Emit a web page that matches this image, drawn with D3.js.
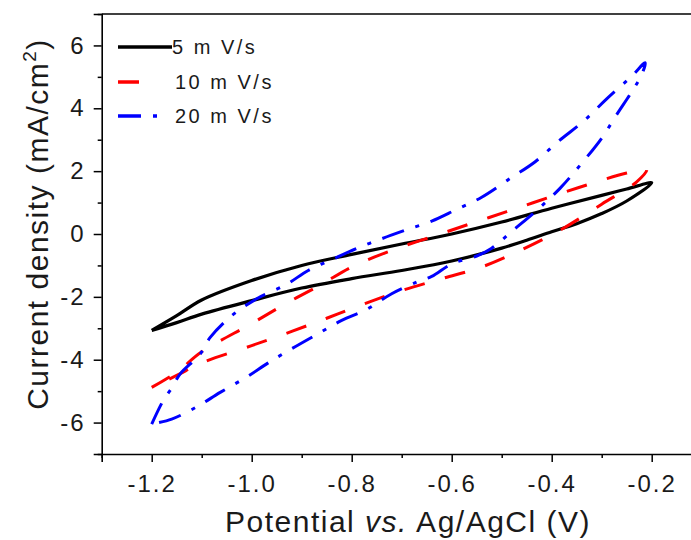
<!DOCTYPE html>
<html>
<head>
<meta charset="utf-8">
<script src="https://cdn.jsdelivr.net/npm/d3@7"></script>
<style>
  body { margin: 0; background: #fff; }
  text { font-family: "Liberation Sans", Arial, sans-serif; fill: #1a1a1a; }
</style>
</head>
<body>
<div id="chart"></div>
<script>
// cyclic voltammetry loops (V vs Ag/AgCl, mA/cm2)
var potential5 = [-1.2, -1.15, -1.1, -1.0, -0.9, -0.8, -0.7, -0.6, -0.5, -0.4, -0.3, -0.25, -0.2,
  -0.25, -0.3, -0.35, -0.4, -0.45, -0.5, -0.6, -0.7, -0.8, -0.9, -1.0, -1.1, -1.15, -1.2];
var current5 = [-3.07, -2.6, -2.1, -1.48, -1.0, -0.65, -0.32, 0.0, 0.38, 0.82, 1.23, 1.43, 1.63,
  1.05, 0.65, 0.33, 0.07, -0.2, -0.45, -0.86, -1.16, -1.42, -1.72, -2.12, -2.55, -2.82, -3.07];

var potential10 = [-1.2, -1.15, -1.1, -1.0, -0.93, -0.86, -0.8, -0.72, -0.64, -0.56, -0.49, -0.41, -0.33, -0.25, -0.21,
  -0.23, -0.3, -0.38, -0.46, -0.54, -0.62, -0.7, -0.78, -0.85, -0.92, -1.0, -1.1, -1.15, -1.2];
var current10 = [-4.88, -4.4, -3.75, -2.85, -2.2, -1.6, -1.05, -0.52, -0.09, 0.34, 0.71, 1.14, 1.56, 1.94, 2.05,
  1.66, 0.95, 0.15, -0.5, -1.05, -1.42, -1.8, -2.25, -2.68, -3.1, -3.55, -4.1, -4.5, -4.88];

var potential20 = [-1.2, -1.177, -1.16, -1.143, -1.103, -1.083, -1.04, -0.99, -0.93, -0.887, -0.835, -0.79, -0.74,
  -0.693, -0.64, -0.593, -0.54, -0.48, -0.433, -0.385, -0.337, -0.29, -0.24, -0.213,
  -0.22, -0.237, -0.27, -0.3, -0.34, -0.383, -0.43, -0.477, -0.52, -0.55, -0.6, -0.64, -0.67, -0.72,
  -0.77, -0.82, -0.867, -0.92, -0.967, -1.01, -1.063, -1.11, -1.16, -1.2];
var current20 = [-6.05, -5.3, -4.9, -4.45, -3.82, -3.29, -2.6, -2.06, -1.6, -1.16, -0.78, -0.46, -0.15,
  0.12, 0.41, 0.76, 1.17, 1.8, 2.3, 2.97, 3.58, 4.3, 5.02, 5.45,
  5.07, 4.6, 3.8, 3.05, 2.25, 1.46, 0.75, 0.12, -0.45, -0.7, -0.95, -1.35, -1.53, -1.9,
  -2.4, -2.75, -3.17, -3.65, -4.1, -4.55, -5.04, -5.5, -5.89, -6.05];

var seriesNames = ["5 m V/s", "10 m V/s", "20 m V/s"];
var xTicks = [-1.2, -1.0, -0.8, -0.6, -0.4, -0.2];
var xMinor = [-1.3, -1.1, -0.9, -0.7, -0.5, -0.3, -0.1];
var yTicks = [-6, -4, -2, 0, 2, 4, 6];
var yMinor = [-7, -5, -3, -1, 1, 3, 5, 7];

var w = 691;
var h = 540;
var colors = ["#000000", "#ff0000", "#0000ff"];
var dashes = [null, "21,21", "23,12,4,12"];
var widths = [3.2, 3, 3];

var series = [
  d3.zip(potential5, current5),
  d3.zip(potential10, current10),
  d3.zip(potential20, current20)
];

var svg = d3.select("#chart").append("svg")
  .attr("width", w)
  .attr("height", h);

var x = d3.scaleLinear().domain([-1.3, -0.1]).range([101.7, 701.7]);
var y = d3.scaleLinear().domain([-7, 7]).range([454, 14]);

// curves
var line = d3.line()
  .x(function(d) { return x(d[0]); })
  .y(function(d) { return y(d[1]); })
  .curve(d3.curveCatmullRom);

svg.selectAll("path.cv")
  .data(series)
  .enter()
  .append("path")
  .attr("class", "cv")
  .attr("d", line)
  .attr("fill", "none")
  .attr("stroke", function(d, i) { return colors[i]; })
  .attr("stroke-width", function(d, i) { return widths[i]; })
  .attr("stroke-dasharray", function(d, i) { return dashes[i]; })
  .attr("stroke-linejoin", "round");

// axes
var xAxis = svg.append("g")
  .attr("transform", "translate(0," + y(-7) + ")")
  .call(d3.axisBottom(x).tickValues(xTicks).tickSize(8).tickPadding(6)
    .tickFormat(function(d) { return d.toFixed(1); }));
svg.append("g")
  .attr("transform", "translate(0," + y(-7) + ")")
  .call(d3.axisBottom(x).tickValues(xMinor).tickSize(4).tickFormat(""))
  .select(".domain").remove();

var yAxis = svg.append("g")
  .attr("transform", "translate(" + x(-1.3) + ",0)")
  .call(d3.axisLeft(y).tickValues(yTicks).tickSize(8).tickPadding(10)
    .tickFormat(function(d) { return String(d); }));
svg.append("g")
  .attr("transform", "translate(" + x(-1.3) + ",0)")
  .call(d3.axisLeft(y).tickValues(yMinor).tickSize(4).tickFormat(""))
  .select(".domain").remove();

// top frame line
svg.append("line")
  .attr("x1", x(-1.3)).attr("x2", x(-0.1))
  .attr("y1", y(7)).attr("y2", y(7))
  .attr("stroke", "#000").attr("stroke-width", 1.6);

svg.selectAll(".domain").attr("stroke-width", 1.6);
svg.selectAll(".tick line").attr("stroke-width", 1.5);
svg.selectAll(".tick text")
  .style("font-family", "'Liberation Sans', Arial, sans-serif")
  .style("font-size", "24px")
  .style("letter-spacing", "2px")
  .attr("fill", "#1a1a1a");
xAxis.selectAll(".tick text").attr("dy", "1.0em");
yAxis.selectAll(".tick text").attr("dx", "2px");

// axis titles
var xt = svg.append("text")
  .attr("x", 408)
  .attr("y", 532)
  .attr("text-anchor", "middle")
  .style("font-size", "30px")
  .style("letter-spacing", "1.5px");
xt.append("tspan").text("Potential ");
xt.append("tspan").style("font-style", "italic").text("vs.");
xt.append("tspan").text(" Ag/AgCl (V)");

var yt = svg.append("text")
  .attr("transform", "translate(48,224) rotate(-90)")
  .attr("text-anchor", "middle")
  .style("font-size", "30px")
  .style("letter-spacing", "1.5px");
yt.append("tspan").text("Current density (mA/cm");
yt.append("tspan").attr("dy", "-12").style("font-size", "19px").text("2");
yt.append("tspan").attr("dy", "12").text(")");

// legend
var legendY = [47, 82, 116];
var legendEnd = [172, 141, 157];
var legend = svg.selectAll("g.legend")
  .data(seriesNames)
  .enter()
  .append("g")
  .attr("class", "legend");
legend.append("line")
  .attr("x1", 118)
  .attr("x2", function(d, i) { return legendEnd[i]; })
  .attr("y1", function(d, i) { return legendY[i]; })
  .attr("y2", function(d, i) { return legendY[i]; })
  .attr("stroke", function(d, i) { return colors[i]; })
  .attr("stroke-width", function(d, i) { return widths[i] + 0.5; })
  .attr("stroke-dasharray", function(d, i) { return dashes[i]; });
legend.append("text")
  .attr("x", function(d, i) { return i == 0 ? 172 : 175; })
  .attr("y", function(d, i) { return legendY[i] + 7; })
  .style("font-size", "20px")
  .style("letter-spacing", "2.5px")
  .text(function(d) { return d; });
</script>
</body>
</html>
